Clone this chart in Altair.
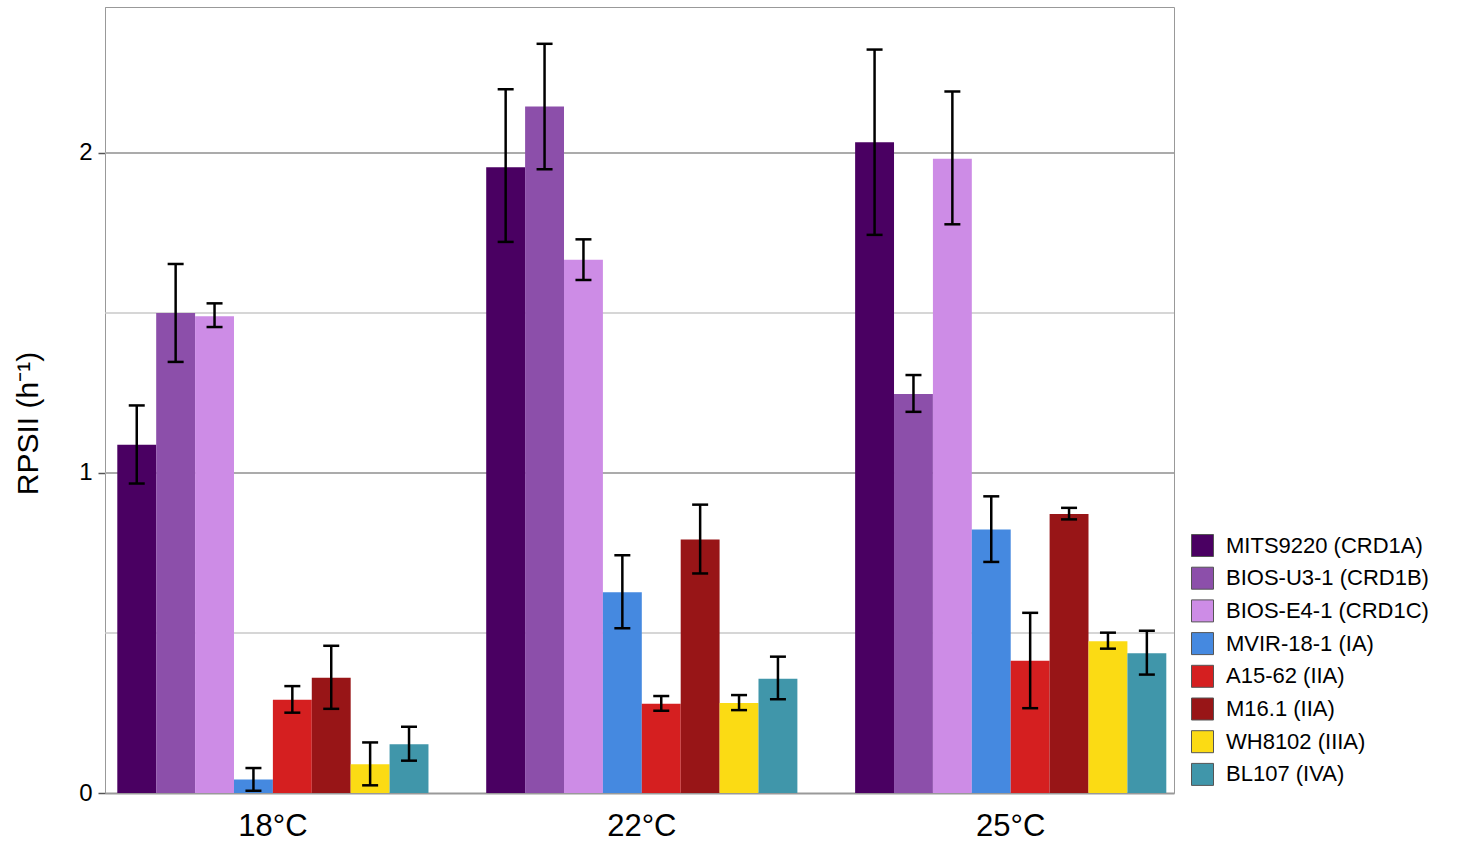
import altair as alt
import pandas as pd

# Temperatures (groups) and strains (bars within each group)
temps = ["18°C", "22°C", "25°C"]
strains = [
    "MITS9220 (CRD1A)",
    "BIOS-U3-1 (CRD1B)",
    "BIOS-E4-1 (CRD1C)",
    "MVIR-18-1 (IA)",
    "A15-62 (IIA)",
    "M16.1 (IIA)",
    "WH8102 (IIIA)",
    "BL107 (IVA)",
]
colors = ["#4a0062", "#8c4faa", "#cd8ce6", "#4589e0", "#d51f20", "#981517", "#fbdb14", "#4096aa"]

# Mean RPSII (h^-1) per strain, one list per temperature
rate_18 = [1.088, 1.500, 1.490, 0.042, 0.291, 0.360, 0.090, 0.152]
rate_22 = [1.955, 2.145, 1.666, 0.627, 0.279, 0.792, 0.281, 0.357]
rate_25 = [2.033, 1.247, 1.982, 0.823, 0.413, 0.872, 0.474, 0.437]

# Lower / upper ends of the error bars
low_18 = [0.967, 1.347, 1.456, 0.007, 0.251, 0.263, 0.024, 0.101]
high_18 = [1.211, 1.653, 1.530, 0.078, 0.334, 0.460, 0.158, 0.207]
low_22 = [1.722, 1.949, 1.603, 0.515, 0.257, 0.686, 0.259, 0.293]
high_22 = [2.199, 2.341, 1.730, 0.743, 0.303, 0.901, 0.306, 0.426]
low_25 = [1.744, 1.191, 1.777, 0.722, 0.265, 0.855, 0.451, 0.370]
high_25 = [2.323, 1.306, 2.192, 0.927, 0.563, 0.891, 0.501, 0.507]

# Horizontal reference lines
major_grid = [1, 2]
minor_grid = [0.5, 1.5]

FONT = "Liberation Sans"
Y_MAX = 2.456

rows = []
for t, vals, lo, hi in zip(
    temps, [rate_18, rate_22, rate_25], [low_18, low_22, low_25], [high_18, high_22, high_25]
):
    for s, v, l, h in zip(strains, vals, lo, hi):
        rows.append({"temp": t, "strain": s, "value": v, "lo": l, "hi": h})
df = pd.DataFrame(rows)

y_scale = alt.Scale(domain=[0, Y_MAX], nice=False, zero=True)
y_axis = alt.Axis(
    values=[0, 1, 2],
    format="d",
    grid=False,
    title="RPSII (h⁻¹)",
    titleFont=FONT,
    titleFontSize=30,
    titleFontWeight="normal",
    titleColor="black",
    titleX=-62,
    titleY=416,
    titleAlign="center",
    titleBaseline="bottom",
    labelFont=FONT,
    labelFontSize=24,
    labelColor="black",
    labelPadding=6,
    tickSize=7,
    tickColor="#555555",
    tickWidth=1.5,
    domainColor="#999999",
    domainWidth=1,
)

x_enc = alt.X(
    "temp:N",
    sort=temps,
    scale=alt.Scale(paddingInner=0.1565, paddingOuter=0.0271, align=0.615),
    axis=alt.Axis(
        title=None,
        labelAngle=0,
        labelFont=FONT,
        labelFontSize=31,
        labelColor="black",
        labelPadding=18,
        ticks=False,
        domainColor="#999999",
        domainWidth=2,
    ),
)
xoff_enc = alt.XOffset("strain:N", sort=strains, scale=alt.Scale(paddingInner=0, paddingOuter=0))

base = alt.Chart(df).encode(x=x_enc, xOffset=xoff_enc)

bars = base.mark_bar().encode(
    y=alt.Y("value:Q", scale=y_scale, axis=y_axis),
    color=alt.Color(
        "strain:N",
        sort=strains,
        scale=alt.Scale(domain=strains, range=colors),
        legend=alt.Legend(
            title=None,
            orient="none",
            legendX=1086,
            legendY=527,
            padding=0,
            symbolType="square",
            symbolSize=484,
            symbolStrokeColor="#555555",
            symbolStrokeWidth=1,
            symbolOpacity=1,
            labelFont=FONT,
            labelFontSize=22,
            labelColor="black",
            labelOffset=12,
            labelLimit=400,
            rowPadding=5.7,
        ),
    ),
)

whisker = base.mark_rule(color="black", strokeWidth=2.5).encode(
    y=alt.Y("lo:Q", scale=y_scale), y2="hi:Q"
)
cap_lo = base.mark_tick(color="black", thickness=2.5, size=16, opacity=1).encode(
    y=alt.Y("lo:Q", scale=y_scale)
)
cap_hi = base.mark_tick(color="black", thickness=2.5, size=16, opacity=1).encode(
    y=alt.Y("hi:Q", scale=y_scale)
)

grid_major = (
    alt.Chart(pd.DataFrame({"value": major_grid}))
    .mark_rule(color="#ababab", strokeWidth=2)
    .encode(y=alt.Y("value:Q", scale=y_scale))
)
grid_minor = (
    alt.Chart(pd.DataFrame({"value": minor_grid}))
    .mark_rule(color="#c8c8c8", strokeWidth=1.5)
    .encode(y=alt.Y("value:Q", scale=y_scale))
)

chart = (
    alt.layer(grid_minor, grid_major, bars, whisker, cap_lo, cap_hi)
    .properties(
        width=1069,
        height=786,
        padding={"left": 105, "top": 7, "right": 283, "bottom": 57},
        autosize=alt.AutoSizeParams(type="none"),
        background="white",
    )
    .configure_view(stroke="#999999", strokeWidth=1)
)

chart.save("out.html", embed_options={"renderer": "svg", "actions": False})
